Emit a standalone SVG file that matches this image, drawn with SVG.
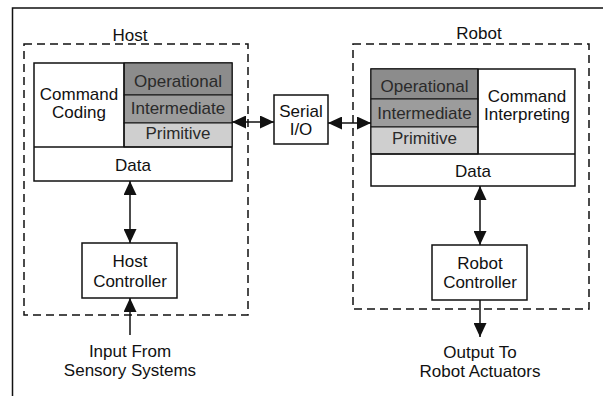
<svg xmlns="http://www.w3.org/2000/svg" width="603" height="396" viewBox="0 0 603 396">
<style>
.t{font-family:"Liberation Sans",Arial,sans-serif;font-size:17px;fill:#111;text-anchor:middle}
.box{fill:#fff;stroke:#111;stroke-width:1.5}
.dash{fill:none;stroke:#111;stroke-width:1.5;stroke-dasharray:8 5}
.op{fill:#8c8c8c;stroke:#111;stroke-width:1}
.im{fill:#9c9c9c;stroke:#111;stroke-width:1}
.pr{fill:#cfcfcf;stroke:#111;stroke-width:1}
.ln{fill:none;stroke:#111;stroke-width:1.5}
.st{fill:#2a2a2a}
</style>
<defs>
<marker id="ah" markerUnits="userSpaceOnUse" markerWidth="15" markerHeight="13" refX="14" refY="6.5" orient="auto-start-reverse">
<path d="M0,0 L14,6.5 L0,13 z" fill="#111"/>
</marker>
</defs>
<g id="frame">
<path class="ln" d="M12.5,396 L12.5,8 L603,8"/>
</g>
<g id="host">
<rect class="dash" x="24" y="44" width="224" height="271"/>
<text class="t" x="130" y="41">Host</text>
</g>
<g id="host-command">
<rect class="box" x="34" y="63" width="198" height="118"/>
<rect class="op" x="124" y="63" width="108" height="32"/>
<rect class="im" x="124" y="95" width="108" height="28"/>
<rect class="pr" x="124" y="123" width="108" height="24"/>
<line class="ln" x1="124" y1="63" x2="124" y2="147"/>
<line class="ln" x1="34" y1="147" x2="232" y2="147"/>
<text class="t" x="79" y="100">Command</text>
<text class="t" x="79" y="118">Coding</text>
<text class="t st" x="178" y="87">Operational</text>
<text class="t st" x="178" y="114">Intermediate</text>
<text class="t st" x="178" y="139">Primitive</text>
<text class="t" x="133" y="171">Data</text>
</g>
<g id="host-controller">
<rect class="box" x="82" y="243" width="95" height="55"/>
<text class="t" x="130" y="267">Host</text>
<text class="t" x="130" y="287">Controller</text>
</g>
<g id="serial">
<rect class="box" x="274" y="95" width="54" height="49"/>
<text class="t" x="301" y="117">Serial</text>
<text class="t" x="301" y="135">I/O</text>
</g>
<g id="robot">
<rect class="dash" x="353" y="44" width="236" height="265"/>
<text class="t" x="479" y="39">Robot</text>
</g>
<g id="robot-command">
<rect class="box" x="371" y="69" width="204" height="117"/>
<rect class="op" x="371" y="69" width="107" height="30"/>
<rect class="im" x="371" y="99" width="107" height="28"/>
<rect class="pr" x="371" y="127" width="107" height="27"/>
<line class="ln" x1="478" y1="69" x2="478" y2="154"/>
<line class="ln" x1="371" y1="154" x2="575" y2="154"/>
<text class="t st" x="424.5" y="92">Operational</text>
<text class="t st" x="424.5" y="119">Intermediate</text>
<text class="t st" x="424.5" y="144">Primitive</text>
<text class="t" x="527" y="102">Command</text>
<text class="t" x="527" y="120">Interpreting</text>
<text class="t" x="473" y="177">Data</text>
</g>
<g id="robot-controller">
<rect class="box" x="432" y="245" width="95" height="55"/>
<text class="t" x="480" y="269">Robot</text>
<text class="t" x="480" y="288">Controller</text>
</g>
<g id="input-label">
<text class="t" x="130" y="357">Input From</text>
<text class="t" x="130" y="376">Sensory Systems</text>
</g>
<g id="output-label">
<text class="t" x="480" y="358">Output To</text>
<text class="t" x="480" y="377">Robot Actuators</text>
</g>
<g id="connectors">
<line class="ln" x1="232" y1="122" x2="274" y2="122" marker-start="url(#ah)" marker-end="url(#ah)"/>
<line class="ln" x1="328" y1="123" x2="371" y2="123" marker-start="url(#ah)" marker-end="url(#ah)"/>
<line class="ln" x1="130" y1="181" x2="130" y2="243" marker-start="url(#ah)" marker-end="url(#ah)"/>
<line class="ln" x1="130" y1="335" x2="130" y2="298" marker-end="url(#ah)"/>
<line class="ln" x1="480" y1="186" x2="480" y2="245" marker-start="url(#ah)" marker-end="url(#ah)"/>
<line class="ln" x1="480" y1="300" x2="480" y2="337" marker-end="url(#ah)"/>
</g>
</svg>
